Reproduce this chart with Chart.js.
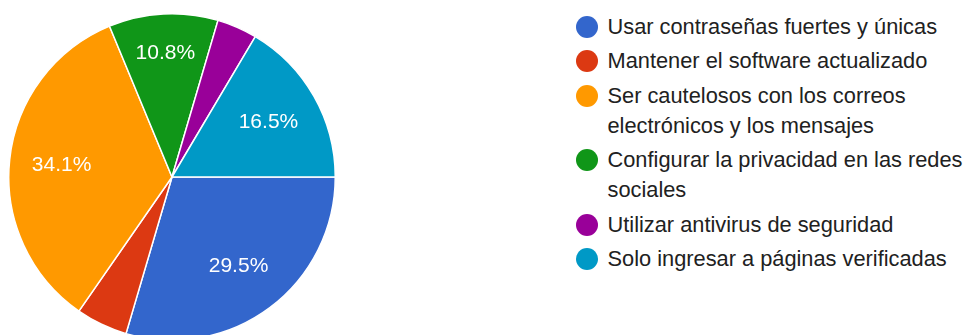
<!DOCTYPE html>
<html>
<head>
<meta charset="utf-8">
<script src="https://cdn.jsdelivr.net/npm/chart.js@4"></script>
<style>
  html, body { margin: 0; padding: 0; background: #fff; }
  body { width: 966px; height: 335px; overflow: hidden; position: relative;
         font-family: "Liberation Sans", Arial, Helvetica, sans-serif; }
  #pieBox { position: absolute; left: 8px; top: 13px; width: 328px; height: 328px; }
  #legend { position: absolute; left: 576px; top: 11.7px; }
  .item { display: flex; align-items: flex-start; margin-bottom: 4.5px; }
  .dot { width: 22px; height: 22px; border-radius: 50%; margin-top: 4px; flex: none; }
  .txt { margin-left: 9.5px; font-size: 21.8px; line-height: 30px; color: #212121; width: 355px; }
</style>
</head>
<body>
<div id="pieBox"><canvas id="pie"></canvas></div>
<div id="legend"></div>
<script>
const answers = [
  "Usar contraseñas fuertes y únicas",
  "Mantener el software actualizado",
  "Ser cautelosos con los correos electrónicos y los mensajes",
  "Configurar la privacidad en las redes sociales",
  "Utilizar antivirus de seguridad",
  "Solo ingresar a páginas verificadas"
];
const responses = [52, 9, 60, 19, 7, 29];
const sliceColors = ["#3366CC", "#DC3912", "#FF9900", "#109618", "#990099", "#0099C6"];

const total = responses.reduce((a, b) => a + b, 0);

// Legend on the right
const legend = document.getElementById("legend");
answers.forEach((name, i) => {
  legend.innerHTML +=
  `<div class="item"><div class="dot" style="background:${sliceColors[i]}"></div><div class="txt">${name}</div></div>`;
});

// percentage text inside the bigger slices
const sliceLabels = {
  id: "sliceLabels",
  afterDatasetsDraw(chart) {
    const ctx = chart.ctx;
    const meta = chart.getDatasetMeta(0);
    ctx.save();
    ctx.fillStyle = "#fff";
    ctx.font = '21px "Liberation Sans", Arial, sans-serif';
    ctx.textAlign = "center";
    ctx.textBaseline = "middle";
    meta.data.forEach((arc, i) => {
      const pct = responses[i] / total * 100;
      if (pct < 8) return;
      const p = arc.getProps(["x", "y", "startAngle", "endAngle", "outerRadius"], true);
      const mid = (p.startAngle + p.endAngle) / 2;
      const span = p.endAngle - p.startAngle;
      const r = p.outerRadius * (span < Math.PI / 4 ? 0.76 : 0.68);
      ctx.fillText(pct.toFixed(1) + "%", p.x + Math.cos(mid) * r, p.y + Math.sin(mid) * r);
    });
    ctx.restore();
  }
};

new Chart(document.getElementById("pie"), {
  type: "pie",
  data: {
    labels: answers,
    datasets: [{
      data: responses,
      backgroundColor: sliceColors,
      borderColor: "#fff",
      borderWidth: 1.5
    }]
  },
  options: {
    responsive: true,
    maintainAspectRatio: false,
    animation: false,
    rotation: 90,
    layout: { padding: 0 },
    plugins: {
      legend: { display: false },
      tooltip: { enabled: false }
    }
  },
  plugins: [sliceLabels]
});
</script>
</body>
</html>
